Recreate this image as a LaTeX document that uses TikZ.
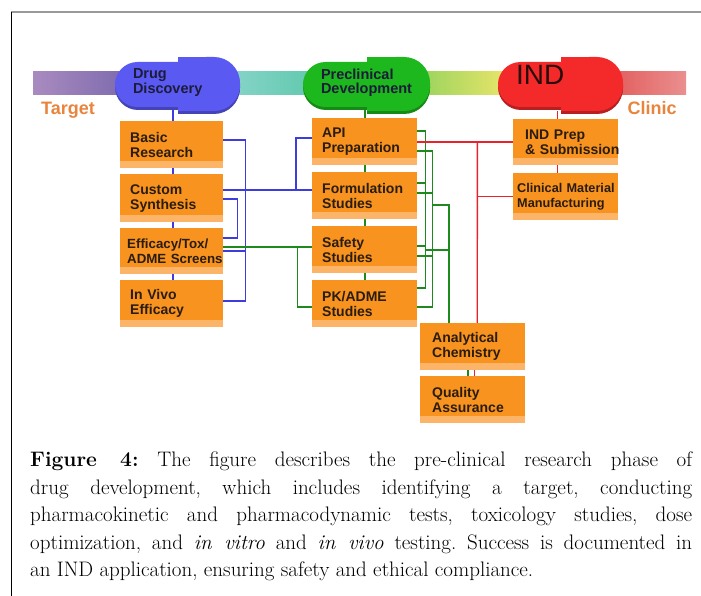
\documentclass[tikz,border=0pt]{standalone}
\usepackage{fontspec}
\newfontfamily\diagfont{Liberation Sans}
\usetikzlibrary{backgrounds}
\definecolor{pillblue}{HTML}{5A5AF2}
\definecolor{pillgreen}{HTML}{1DB81D}
\definecolor{pillred}{HTML}{F42A2A}
\definecolor{boxorange}{HTML}{F7931E}
\definecolor{boxlight}{HTML}{FBB468}
\definecolor{boxtext}{HTML}{2A1C10}
\definecolor{pilltext}{HTML}{1C1C3A}
\definecolor{indtext}{HTML}{2A0C0C}
\definecolor{wireblue}{HTML}{3D3DDE}
\definecolor{wiregreen}{HTML}{1E8A1E}
\definecolor{wirered}{HTML}{E8232B}
\definecolor{endlabel}{HTML}{E8843C}
\definecolor{barpurpleL}{HTML}{A98BBF}
\definecolor{barpurpleR}{HTML}{7E6BAE}
\definecolor{bartealL}{HTML}{86D4C8}
\definecolor{bartealR}{HTML}{62C9AE}
\definecolor{bargreen}{HTML}{9BD45E}
\definecolor{baryellow}{HTML}{E9E46A}
\definecolor{barsalmon}{HTML}{E25F5F}

% capsule body and cap behind the pill node
\newcommand{\pillbase}[3]{%
  \fill[#1!75!black,rounded corners=23pt] (#2,64) rectangle (#3,110);
  \fill[#1!75!black] ({(#2+#3)/2},60) rectangle (#3-30,114);
  \fill[#1!75!black,rounded corners=26pt] (#3-60,60) rectangle (#3,114);
  \fill[#1] ({(#2+#3)/2},57) rectangle (#3-30,111);
  \fill[#1,rounded corners=26pt] (#3-60,57) rectangle (#3,111);}

\begin{document}
\begin{tikzpicture}[x=1pt,y=-1pt,
    obox/.style={rectangle,fill=boxorange,anchor=north west,minimum height=47pt,
      inner xsep=10pt,inner ysep=2pt,text width=85pt,align=left,text=boxtext,
      font=\diagfont\bfseries\fontsize{14}{15}\selectfont,
      execute at begin node={\hyphenpenalty=10000\exhyphenpenalty=10000},
      path picture={\fill[boxlight] ([yshift=7pt]path picture bounding box.south west) rectangle (path picture bounding box.south east);}},
    pill/.style={rectangle,rounded corners=22.5pt,minimum height=45pt,inner xsep=18pt,
      inner ysep=0pt,text width=89pt,align=left,text=pilltext,text depth=21pt,
      font=\diagfont\bfseries\fontsize{14.5}{14.5}\selectfont},
    endtext/.style={text=endlabel,font=\diagfont\bfseries\fontsize{18}{18}\selectfont,inner sep=0pt},
    wire/.style={line width=1.7pt}]
\useasboundingbox (0,0) rectangle (701,596);
\draw[gray!80,line width=1.5pt] (11,12) -- (701,12);
\draw[black,line width=1pt] (11,12) -- (11,596);

% timeline bar
\shade[left color=barpurpleL,right color=barpurpleR] (33,72) rectangle (125,95);
\shade[left color=bartealL,right color=bartealR] (232,72) rectangle (312,95);
\shade[left color=bargreen,right color=baryellow] (422,72) rectangle (506,95);
\shade[left color=barsalmon,right color=barsalmon!70!white] (615,72) rectangle (686,95);

\node[endtext] (target) at (68,110) {Target};
\node[endtext] (clinic) at (652,108) {Clinic};

% phases
\pillbase{pillblue}{115}{240}
\node[pill,fill=pillblue,minimum width=125pt] (drug) at (177.5,84.5) {Drug\\Discovery};
\pillbase{pillgreen}{303}{430}
\node[pill,fill=pillgreen,text width=91pt] (precl) at (366.5,84.5) {Preclinical\\Development};
\pillbase{pillred}{498}{623}
\node[pill,fill=pillred,text depth=20pt,text=indtext,
  font=\diagfont\fontsize{28}{28}\selectfont] (ind) at (560.5,84.5) {IND};

% drug discovery column
\node[obox,text width=83pt] (basic) at (120,121) {Basic\\Research};
\node[obox,text width=83pt,minimum height=48pt] (custom) at (120,174) {Custom\\Synthesis};
\node[obox,text width=89pt,inner xsep=7pt,minimum height=46pt,
  font=\diagfont\bfseries\fontsize{13.3}{15}\selectfont] (effic) at (120,228) {Efficacy/Tox/\\ADME~Screens};
\node[obox,text width=83pt] (invivo) at (120,280) {In~Vivo\\Efficacy};

% preclinical column
\node[obox] (api) at (312,118) {API\\Preparation};
\node[obox] (formul) at (312,172) {Formulation\\Studies};
\node[obox] (safety) at (312,226) {Safety\\Studies};
\node[obox] (pkadme) at (312,280) {PK/ADME\\Studies};

% IND column
\node[obox,inner xsep=12pt,text width=81pt,minimum height=46pt] (indprep) at (513,119) {IND~Prep\\\&~Submission};
\node[obox,inner xsep=4pt,text width=97pt,
  font=\diagfont\bfseries\fontsize{12.7}{15}\selectfont] (clinmat) at (513,173) {Clinical~Material\\Manufacturing};
\node[obox,inner xsep=12pt,text width=81pt] (analyt) at (420,323) {Analytical\\Chemistry};
\node[obox,inner xsep=12pt,text width=81pt] (quality) at (420,376) {Quality\\Assurance};

\begin{scope}[on background layer]
  % blue links
  \draw[wire,wireblue] ([xshift=1.5pt]invivo.north) -- ++(0,-170);
  \draw[wire,wireblue] ([yshift=4.5pt]basic.east) -- ++(22,0) |- ([yshift=2.5pt]invivo.east);
  \draw[wire,wireblue] (effic.east) -- ++(22,0);
  \draw[wire,wireblue] ([yshift=8pt]custom.east) -- ++(89,0);
  \draw[wire,wireblue] ([yshift=3.5pt]api.west) -- ++(-16,0) -- ++(0,52);
  \draw[wire,wireblue] ([yshift=-1pt]custom.east) -- ++(14,0) |- ([yshift=13pt]effic.east);
  % green links
  \draw[wire,wiregreen] (pkadme.north) -- ++(0,-170);
  \draw[wire,wiregreen] ([yshift=4pt]effic.east) -- ++(89,0);
  \draw[wire,wiregreen] ([yshift=4pt]effic.east) ++(74,0) |- ([yshift=-3.5pt]pkadme.west);
  \draw[wire,wiregreen] ([yshift=10.5pt]api.east) -- ++(8,0) |- ([yshift=15.5pt]pkadme.east);
  \draw[wire,wiregreen] ([yshift=12.5pt]formul.east) -- ++(8,0);
  \draw[wire,wiregreen] ([yshift=3.5pt]safety.east) -- ++(8,0);
  \draw[wire,wiregreen] ([yshift=-9.5pt]api.east) -- ++(15,0) |- ([yshift=-3.5pt]pkadme.east);
  \draw[wire,wiregreen] ([yshift=2.5pt]formul.east) -- ++(15,0);
  \draw[wire,wiregreen] ([yshift=-6.5pt]safety.east) -- ++(15,0);
  \draw[wire,wiregreen] ([yshift=-9.5pt]formul.east) ++(15,0) -| ([xshift=-23.5pt]analyt.north);
  \draw[wire,wiregreen] ([yshift=-0.5pt]safety.east) ++(8,0) -- ++(24,0);
  \draw[wire,wiregreen] ([xshift=-4.5pt]analyt.south) -- ([xshift=-4.5pt]quality.north);
  % red links
  \draw[wire,wirered,line width=1.4pt] ([xshift=-8.5pt]clinmat.north) -- ++(0,-62);
  \draw[wire,wirered,line width=1.4pt] ([yshift=-0.5pt]api.east) -- ++(96,0);
  \draw[wire,wirered,line width=1.4pt] ([yshift=-0.5pt]api.east) ++(60,0) -- ([xshift=4.5pt]analyt.north);
  \draw[wire,wirered,line width=1.4pt] (clinmat.west) -- ++(-36,0);
  \draw[wire,wirered,line width=1.4pt] ([xshift=1.5pt]analyt.south) -- ([xshift=1.5pt]quality.north);
\end{scope}

\node[anchor=north west,inner sep=0pt,text width=662pt,align=justify,
  font=\fontsize{21}{27.5}\selectfont\frenchspacing] (caption) at (30,452)
  {\textbf{Figure 4:} The figure describes the pre-clinical research phase of\linebreak
   drug development, which includes identifying a target, conducting\linebreak
   pharmacokinetic and pharmacodynamic tests, toxicology studies, dose\linebreak
   optimization, and \textit{in vitro} and \textit{in vivo} testing. Success is documented in\linebreak
   an IND application, ensuring safety and ethical compliance.};
\end{tikzpicture}
\end{document}
